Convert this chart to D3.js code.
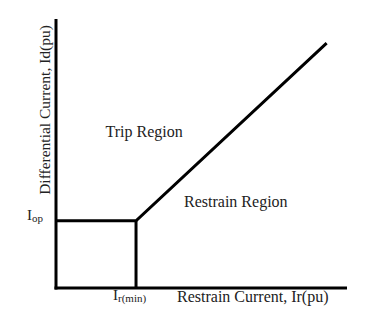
<!DOCTYPE html>
<html>
<head>
<meta charset="utf-8">
<script src="https://cdn.jsdelivr.net/npm/d3@7"></script>
<style>
  body { margin: 0; background: #fff; }
  svg { display: block; }
  text { font-family: "Liberation Serif", "Times New Roman", serif; fill: #222; }
</style>
</head>
<body>
<div id="chart"></div>
<script>
// relay characteristic, arbitrary pu units
var xDomain = [0, 10];
var yDomain = [0, 10];
var Iop = 2.5;
var IrMin = 2.75;
var slopeEnd = [9.3, 9.1];

var operateLine = [[0, Iop], [IrMin, Iop], slopeEnd];
var minLine = [[IrMin, 0], [IrMin, Iop]];

var regions = [
  {name: "Trip Region", x: 1.7, y: 5.6},
  {name: "Restrain Region", x: 4.4, y: 3.0}
];

function drawChart() {
  var width = 374, height = 314;
  var margin = {top: 19, right: 27, bottom: 26, left: 56};

  var x = d3.scaleLinear().domain(xDomain).range([margin.left, width - margin.right]);
  var y = d3.scaleLinear().domain(yDomain).range([height - margin.bottom, margin.top]);

  var svg = d3.select("#chart").append("svg")
      .attr("width", width)
      .attr("height", height);

  var line = d3.line().x(d => x(d[0])).y(d => y(d[1]));

  // axes as plain thick lines
  svg.append("line")
      .attr("x1", x(0)).attr("x2", x(0))
      .attr("y1", y(yDomain[1])).attr("y2", y(0) + 1.5)
      .attr("stroke", "#000").attr("stroke-width", 3);
  svg.append("line")
      .attr("x1", x(0) - 1.5).attr("x2", x(xDomain[1]))
      .attr("y1", y(0)).attr("y2", y(0))
      .attr("stroke", "#000").attr("stroke-width", 3);

  svg.append("path")
      .datum(operateLine)
      .attr("d", line)
      .attr("fill", "none")
      .attr("stroke", "#000")
      .attr("stroke-width", 3)
      .attr("stroke-linejoin", "miter");

  svg.append("path")
      .datum(minLine)
      .attr("d", line)
      .attr("fill", "none")
      .attr("stroke", "#000")
      .attr("stroke-width", 3);

  // region labels
  svg.selectAll(".region")
    .data(regions)
    .enter().append("text")
      .attr("class", "region")
      .attr("x", d => x(d.x))
      .attr("y", d => y(d.y))
      .attr("font-size", 16)
      .text(d => d.name);

  // axis titles
  svg.append("text")
      .attr("x", 177)
      .attr("y", 302)
      .attr("font-size", 16)
      .text("Restrain Current, Ir(pu)");

  svg.append("text")
      .attr("transform", "translate(50," + 110 + ") rotate(-90)")
      .attr("text-anchor", "middle")
      .attr("font-size", 15.5)
      .text("Differential Current, Id(pu)");

  // I_op label
  var lop = svg.append("text")
      .attr("x", x(0) - 29)
      .attr("y", y(Iop) - 1)
      .attr("font-size", 15);
  lop.append("tspan").text("I");
  lop.append("tspan").attr("font-size", 11).attr("dy", 2).text("op");

  // I_r(min) label
  var lmin = svg.append("text")
      .attr("x", x(IrMin) - 23)
      .attr("y", y(0) + 12)
      .attr("font-size", 15);
  lmin.append("tspan").text("I");
  lmin.append("tspan").attr("font-size", 11).attr("dy", 2).text("r(min)");
}

window.onload = drawChart;
</script>
</body>
</html>
